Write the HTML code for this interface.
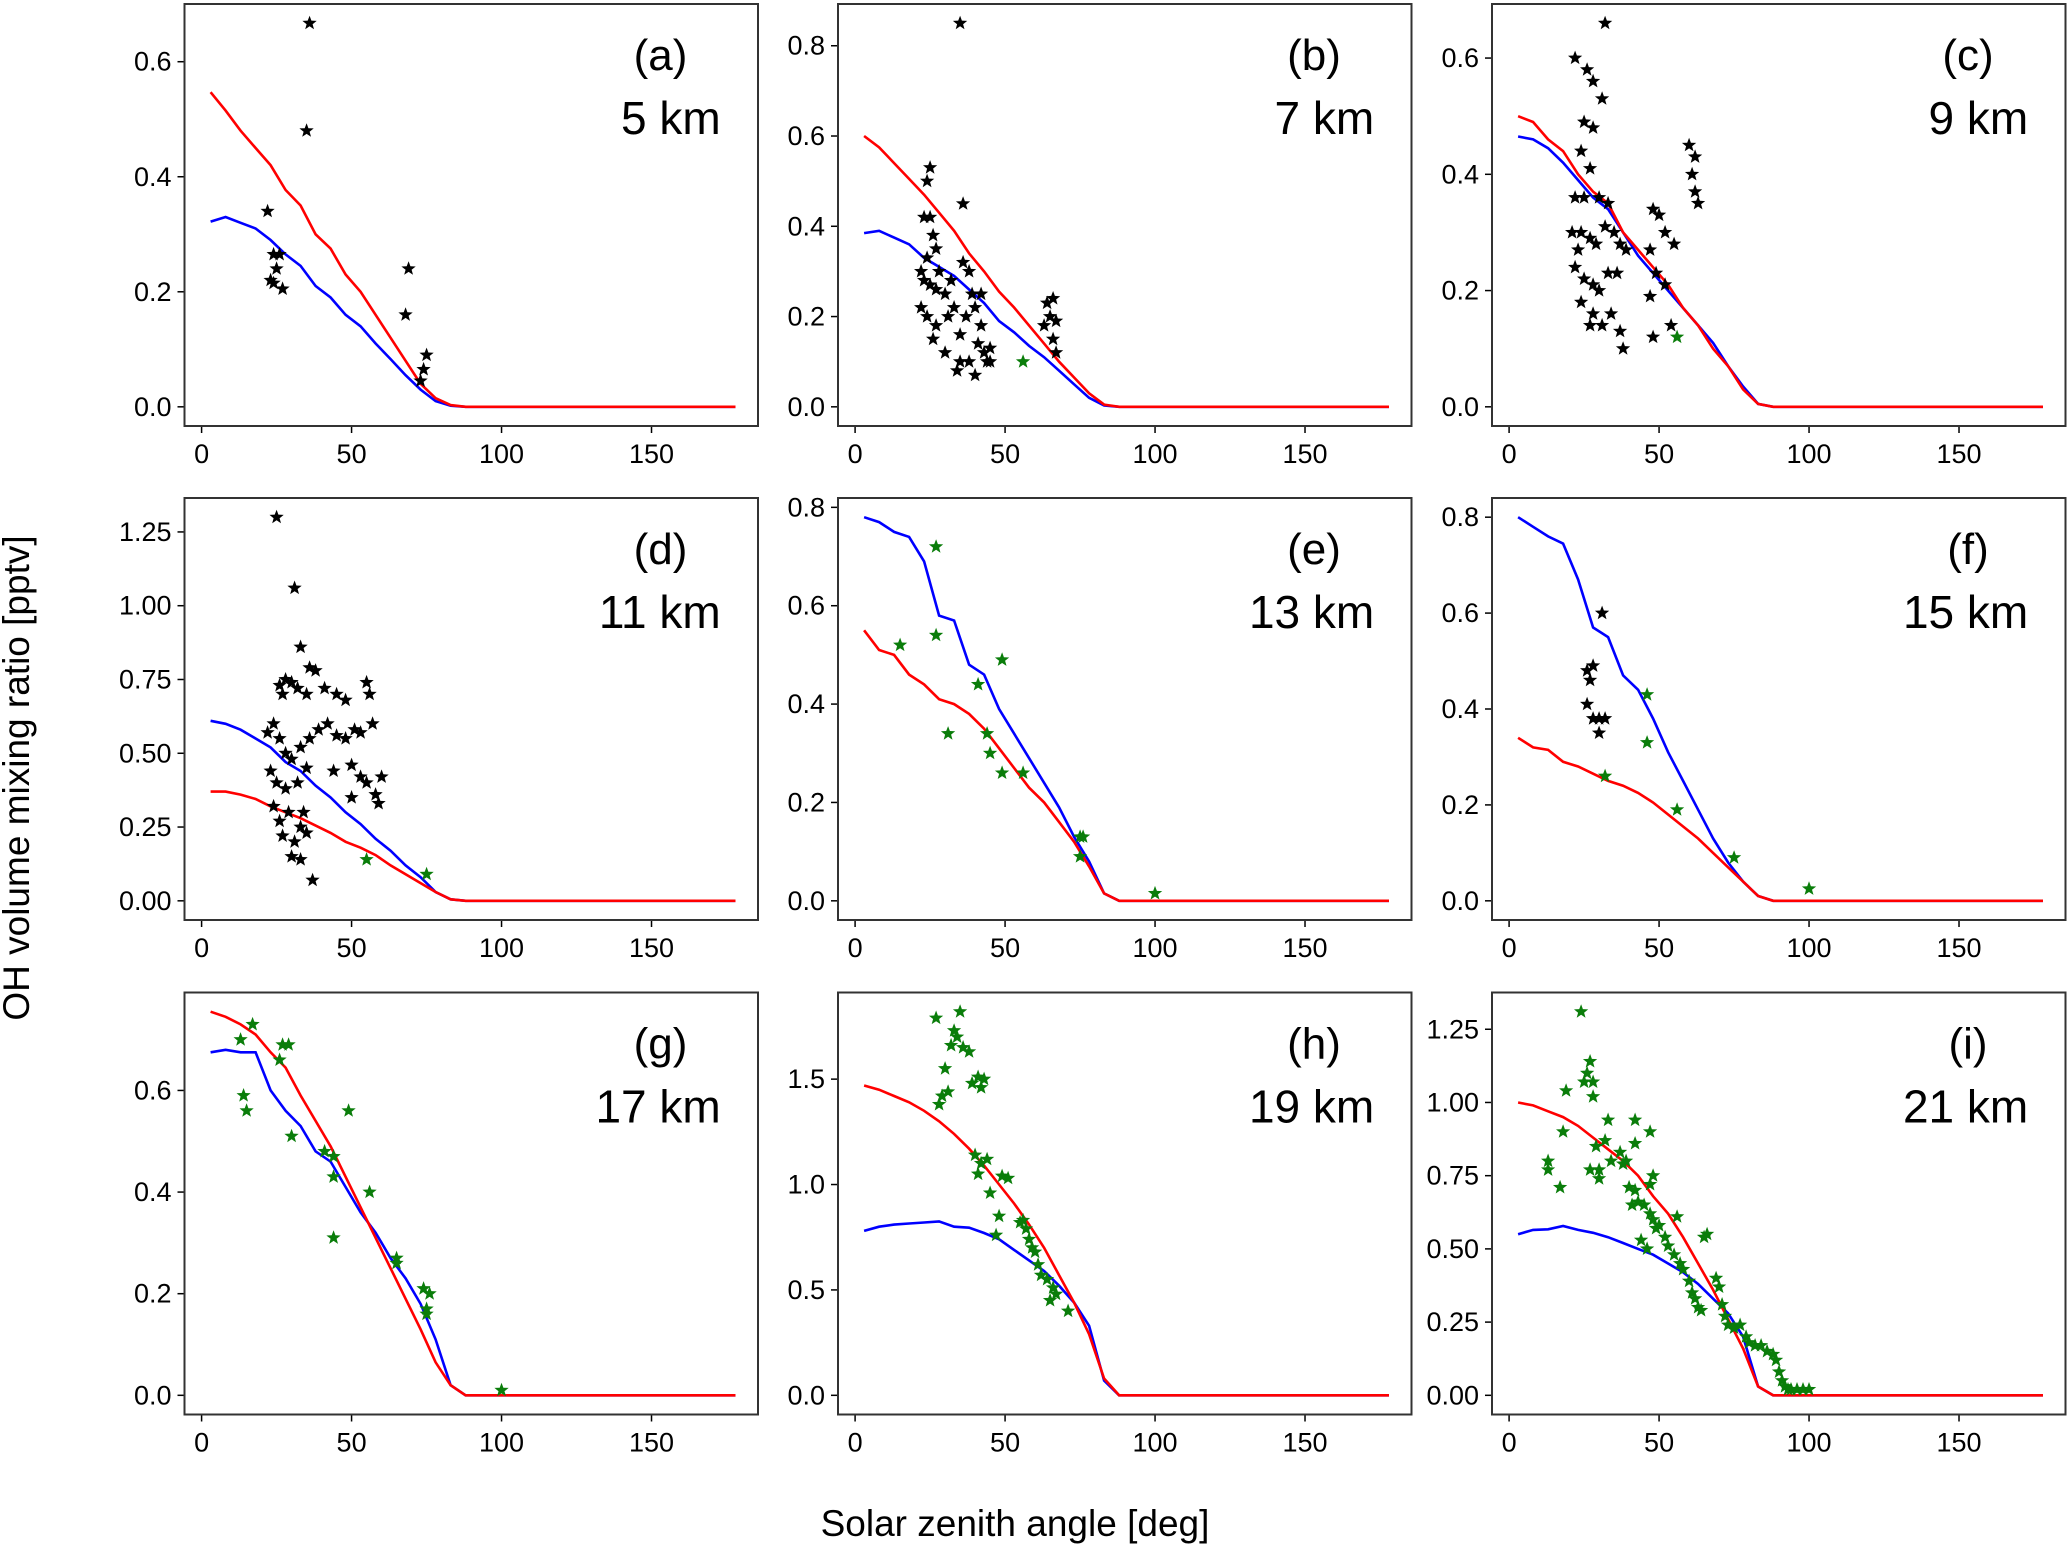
<!DOCTYPE html>
<html><head><meta charset="utf-8"><style>
html,body{margin:0;padding:0;background:#fff}
svg{display:block}
text{font-family:"Liberation Sans","DejaVu Sans",sans-serif;fill:#000}
</style></head><body>
<svg id="fig" width="2067" height="1546" viewBox="0 0 2067 1546" xmlns="http://www.w3.org/2000/svg">
<text transform="translate(29,778) rotate(-90)" text-anchor="middle" font-size="37">OH volume mixing ratio [pptv]</text>
<text x="1015" y="1536" text-anchor="middle" font-size="37">Solar zenith angle [deg]</text>
</svg>
<script>
const sza=[3,8,13,18,23,28,33,38,43,48,53,58,63,68,73,78,83,88,93,98,103,108,113,118,123,128,133,138,143,148,153,158,163,168,173,178];
const xTicks=[0,50,100,150];
const panelLetters=["(a)","(b)","(c)","(d)","(e)","(f)","(g)","(h)","(i)"];
const panelAlts=["5 km","7 km","9 km","11 km","13 km","15 km","17 km","19 km","21 km"];
const yTicksA=[0,0.2,0.4,0.6],yTicksB=[0,0.2,0.4,0.6,0.8],yTicksC=[0,0.2,0.4,0.6],yTicksD=[0,0.25,0.5,0.75,1,1.25],yTicksE=[0,0.2,0.4,0.6,0.8],yTicksF=[0,0.2,0.4,0.6,0.8],yTicksG=[0,0.2,0.4,0.6],yTicksH=[0,0.5,1,1.5],yTicksI=[0,0.25,0.5,0.75,1,1.25];
const Z=[0,0,0,0,0,0,0,0,0,0,0,0,0,0,0,0,0,0];
const redA=[0.547,0.515,0.48,0.45,0.42,0.377,0.35,0.30,0.275,0.23,0.20,0.16,0.12,0.08,0.04,0.015,0.003,0].concat(Z);
const blueA=[0.322,0.33,0.32,0.31,0.29,0.265,0.245,0.21,0.19,0.16,0.14,0.11,0.083,0.055,0.03,0.01,0.002,0].concat(Z);
const redB=[0.60,0.575,0.54,0.505,0.47,0.43,0.39,0.34,0.30,0.255,0.22,0.18,0.14,0.10,0.065,0.03,0.005,0].concat(Z);
const blueB=[0.385,0.39,0.375,0.36,0.33,0.31,0.29,0.26,0.23,0.19,0.165,0.135,0.11,0.08,0.05,0.02,0.003,0].concat(Z);
const redC=[0.50,0.49,0.46,0.44,0.40,0.37,0.35,0.30,0.27,0.24,0.21,0.17,0.14,0.10,0.07,0.03,0.005,0].concat(Z);
const blueC=[0.465,0.46,0.445,0.42,0.39,0.36,0.34,0.30,0.26,0.23,0.20,0.17,0.14,0.11,0.07,0.035,0.005,0].concat(Z);
const redD=[0.37,0.37,0.36,0.345,0.32,0.30,0.28,0.255,0.23,0.20,0.18,0.155,0.12,0.09,0.06,0.03,0.005,0].concat(Z);
const blueD=[0.61,0.60,0.58,0.55,0.52,0.47,0.44,0.39,0.35,0.30,0.26,0.21,0.17,0.12,0.08,0.03,0.005,0].concat(Z);
const redE=[0.55,0.51,0.50,0.46,0.44,0.41,0.40,0.38,0.35,0.31,0.27,0.23,0.20,0.16,0.12,0.07,0.015,0].concat(Z);
const blueE=[0.78,0.77,0.75,0.74,0.69,0.58,0.57,0.48,0.46,0.39,0.34,0.29,0.24,0.19,0.13,0.08,0.015,0].concat(Z);
const redF=[0.34,0.32,0.315,0.29,0.28,0.265,0.25,0.24,0.225,0.205,0.18,0.155,0.13,0.10,0.07,0.04,0.01,0].concat(Z);
const blueF=[0.80,0.78,0.76,0.745,0.67,0.57,0.55,0.47,0.44,0.38,0.31,0.25,0.19,0.13,0.08,0.04,0.01,0].concat(Z);
const redG=[0.755,0.745,0.73,0.71,0.675,0.645,0.59,0.54,0.49,0.43,0.37,0.31,0.25,0.19,0.13,0.065,0.02,0].concat(Z);
const blueG=[0.675,0.68,0.675,0.675,0.60,0.56,0.53,0.48,0.46,0.41,0.36,0.32,0.27,0.23,0.18,0.11,0.02,0].concat(Z);
const redH=[1.47,1.45,1.42,1.39,1.35,1.30,1.24,1.17,1.09,1.0,0.91,0.81,0.70,0.57,0.44,0.29,0.08,0].concat(Z);
const blueH=[0.78,0.80,0.81,0.815,0.82,0.825,0.80,0.795,0.77,0.74,0.69,0.64,0.59,0.52,0.44,0.33,0.07,0].concat(Z);
const redI=[1.0,0.99,0.97,0.95,0.92,0.88,0.84,0.80,0.75,0.68,0.62,0.54,0.45,0.36,0.26,0.16,0.03,0].concat(Z);
const blueI=[0.55,0.565,0.567,0.578,0.565,0.555,0.54,0.52,0.50,0.48,0.45,0.42,0.38,0.33,0.28,0.20,0.03,0].concat(Z);
const blackA=[[36,0.667],[35,0.48],[22,0.34],[24,0.265],[26,0.265],[25,0.24],[23,0.22],[24,0.215],[27,0.205],[69,0.24],[68,0.16],[75,0.09],[74,0.065],[73,0.045]];
const greenA=[];
const blackB=[[35,0.85],[25,0.53],[24,0.5],[36,0.45],[23,0.42],[25,0.42],[26,0.38],[27,0.35],[24,0.33],[28,0.3],[22,0.3],[23,0.28],[25,0.27],[27,0.26],[30,0.25],[32,0.28],[38,0.3],[36,0.32],[22,0.22],[24,0.2],[27,0.18],[31,0.2],[33,0.22],[35,0.16],[37,0.2],[40,0.22],[42,0.18],[41,0.14],[43,0.12],[44,0.1],[45,0.1],[38,0.1],[35,0.1],[34,0.08],[40,0.07],[30,0.12],[26,0.15],[39,0.25],[45,0.13],[42,0.25],[64,0.23],[66,0.24],[65,0.2],[63,0.18],[67,0.19],[66,0.15],[67,0.12]];
const greenB=[[56,0.1]];
const blackC=[[32,0.66],[22,0.6],[26,0.58],[28,0.56],[31,0.53],[25,0.49],[28,0.48],[24,0.44],[27,0.41],[22,0.36],[25,0.36],[30,0.36],[33,0.35],[21,0.3],[24,0.3],[27,0.29],[29,0.28],[32,0.31],[35,0.3],[37,0.28],[39,0.27],[23,0.27],[22,0.24],[25,0.22],[28,0.21],[30,0.2],[33,0.23],[36,0.23],[24,0.18],[28,0.16],[31,0.14],[34,0.16],[37,0.13],[38,0.1],[27,0.14],[48,0.34],[50,0.33],[52,0.3],[47,0.27],[55,0.28],[49,0.23],[52,0.21],[47,0.19],[54,0.14],[48,0.12],[60,0.45],[62,0.43],[61,0.4],[62,0.37],[63,0.35]];
const greenC=[[56,0.12]];
const blackD=[[25,1.3],[31,1.06],[33,0.86],[36,0.79],[38,0.78],[26,0.73],[28,0.75],[30,0.74],[27,0.7],[32,0.72],[35,0.7],[41,0.72],[45,0.7],[55,0.74],[56,0.7],[48,0.68],[22,0.57],[24,0.6],[26,0.55],[28,0.5],[30,0.48],[33,0.52],[36,0.55],[39,0.58],[42,0.6],[45,0.56],[48,0.55],[51,0.58],[53,0.57],[57,0.6],[23,0.44],[25,0.4],[28,0.38],[32,0.4],[35,0.45],[44,0.44],[50,0.46],[53,0.42],[55,0.4],[60,0.42],[58,0.36],[59,0.33],[50,0.35],[24,0.32],[26,0.27],[29,0.3],[33,0.25],[35,0.23],[31,0.2],[30,0.15],[33,0.14],[37,0.07],[27,0.22],[34,0.3]];
const greenD=[[55,0.14],[75,0.09]];
const blackE=[];
const greenE=[[27,0.72],[15,0.52],[27,0.54],[31,0.34],[41,0.44],[49,0.49],[44,0.34],[45,0.3],[49,0.26],[56,0.26],[75,0.13],[76,0.13],[75,0.09],[100,0.015]];
const blackF=[[31,0.6],[26,0.48],[28,0.49],[27,0.46],[26,0.41],[28,0.38],[30,0.38],[32,0.38],[30,0.35]];
const greenF=[[32,0.26],[46,0.43],[46,0.33],[56,0.19],[75,0.09],[100,0.025]];
const blackG=[];
const greenG=[[17,0.73],[13,0.70],[14,0.59],[15,0.56],[27,0.69],[29,0.69],[26,0.66],[30,0.51],[41,0.48],[44,0.47],[44,0.43],[44,0.31],[49,0.56],[56,0.40],[65,0.27],[65,0.26],[74,0.21],[76,0.2],[75,0.17],[75,0.16],[100,0.01]];
const blackH=[];
const greenH=[[27,1.79],[33,1.73],[35,1.82],[34,1.7],[36,1.65],[38,1.63],[32,1.66],[30,1.55],[29,1.42],[28,1.38],[31,1.44],[39,1.48],[41,1.51],[43,1.5],[42,1.46],[40,1.14],[42,1.1],[41,1.05],[44,1.12],[45,0.96],[49,1.04],[51,1.03],[48,0.85],[47,0.76],[56,0.83],[57,0.79],[58,0.74],[60,0.68],[61,0.62],[62,0.57],[64,0.55],[66,0.51],[67,0.48],[65,0.45],[71,0.4],[59,0.7],[55,0.82]];
const blackI=[];
const greenI=[[24,1.31],[27,1.14],[26,1.1],[28,1.07],[25,1.07],[28,1.02],[19,1.04],[18,0.9],[13,0.8],[13,0.77],[17,0.71],[29,0.85],[32,0.87],[33,0.94],[27,0.77],[30,0.74],[30,0.77],[34,0.8],[37,0.83],[38,0.79],[39,0.8],[42,0.94],[42,0.86],[47,0.9],[40,0.71],[42,0.7],[43,0.66],[41,0.65],[45,0.65],[47,0.62],[48,0.6],[47,0.72],[48,0.75],[49,0.57],[50,0.58],[52,0.54],[53,0.51],[44,0.53],[46,0.5],[56,0.61],[55,0.48],[57,0.45],[58,0.43],[60,0.39],[61,0.35],[62,0.33],[63,0.3],[64,0.29],[65,0.54],[66,0.55],[69,0.4],[70,0.37],[71,0.31],[72,0.27],[73,0.24],[75,0.23],[77,0.24],[79,0.2],[80,0.18],[82,0.17],[84,0.17],[86,0.15],[88,0.14],[89,0.12],[90,0.08],[91,0.05],[92,0.03],[93,0.02],[94,0.02],[96,0.02],[98,0.02],[100,0.02]];

const panels=[
 {red:redA,blue:blueA,black:blackA,green:greenA,ticks:yTicksA,dec:1},
 {red:redB,blue:blueB,black:blackB,green:greenB,ticks:yTicksB,dec:1},
 {red:redC,blue:blueC,black:blackC,green:greenC,ticks:yTicksC,dec:1},
 {red:redD,blue:blueD,black:blackD,green:greenD,ticks:yTicksD,dec:2},
 {red:redE,blue:blueE,black:blackE,green:greenE,ticks:yTicksE,dec:1},
 {red:redF,blue:blueF,black:blackF,green:greenF,ticks:yTicksF,dec:1},
 {red:redG,blue:blueG,black:blackG,green:greenG,ticks:yTicksG,dec:1},
 {red:redH,blue:blueH,black:blackH,green:greenH,ticks:yTicksH,dec:1},
 {red:redI,blue:blueI,black:blackI,green:greenI,ticks:yTicksI,dec:2}
];
const NS="http://www.w3.org/2000/svg";
const fig=document.getElementById('fig');
function mk(tag,parent){const e=document.createElementNS(NS,tag);parent.appendChild(e);return e;}
const colL=[184.5,838,1492],rowT=[4,498,992.5],PW=573.5,PH=422;
const XMIN=-5.7,XMAX=185.5;
function star(cx,cy,r){let p=[];for(let k=0;k<10;k++){const a=-Math.PI/2+k*Math.PI/5;const rr=k%2?r*0.42:r;p.push((cx+rr*Math.cos(a)).toFixed(1)+','+(cy+rr*Math.sin(a)).toFixed(1));}return p.join(' ');}
panels.forEach((P,i)=>{
  const L=colL[i%3],T=rowT[Math.floor(i/3)];
  let M=0;[P.red,P.blue].forEach(s=>s.forEach(v=>{if(v>M)M=v;}));[P.black,P.green].forEach(s=>s.forEach(d=>{if(d[1]>M)M=d[1];}));
  const yMin=-0.05*M,yMax=1.05*M;
  const sx=x=>L+(x-XMIN)/(XMAX-XMIN)*PW;
  const sy=y=>T+PH-(y-yMin)/(yMax-yMin)*PH;
  const g=mk('g',fig);
  
  
  const cp=mk('clipPath',g);cp.setAttribute('id','cp'+i);
  const cr=mk('rect',cp);cr.setAttribute('x',L);cr.setAttribute('y',T);cr.setAttribute('width',PW);cr.setAttribute('height',PH);
  xTicks.forEach(t=>{
    const ln=mk('line',g);ln.setAttribute('x1',sx(t));ln.setAttribute('x2',sx(t));ln.setAttribute('y1',T+PH);ln.setAttribute('y2',T+PH+7);ln.setAttribute('stroke','#000');ln.setAttribute('stroke-width','1.5');
    
    
    const tx=mk('text',g);tx.setAttribute('x',sx(t));tx.setAttribute('y',T+PH+37);tx.setAttribute('text-anchor','middle');tx.setAttribute('font-size','27');tx.textContent=t;
    
    
  });
  P.ticks.forEach(t=>{
    const ln=mk('line',g);ln.setAttribute('x1',L-7);ln.setAttribute('x2',L);ln.setAttribute('y1',sy(t));ln.setAttribute('y2',sy(t));ln.setAttribute('stroke','#000');ln.setAttribute('stroke-width','1.5');
    
    
    const tx=mk('text',g);tx.setAttribute('x',L-13);tx.setAttribute('y',sy(t)+9);tx.setAttribute('text-anchor','end');tx.setAttribute('font-size','27');tx.textContent=t.toFixed(P.dec);
    
    
  });
  const inner=mk('g',g);inner.setAttribute('clip-path','url(#cp'+i+')');
  [['blue','#0000ff',P.blue],['red','#ff0000',P.red]].forEach(([nm,c,s])=>{
    const pl=mk('polyline',inner);
    pl.setAttribute('points',s.map((v,k)=>sx(sza[k]).toFixed(1)+','+sy(v).toFixed(1)).join(' '));
    pl.setAttribute('fill','none');pl.setAttribute('stroke',c);pl.setAttribute('stroke-width','2.6');
    
    
  });
  [['black','#000000',P.black],['green','#0a7d0a',P.green]].forEach(([nm,c,s])=>{
    s.forEach(d=>{
      const st=mk('polygon',inner);st.setAttribute('points',star(sx(d[0]),sy(d[1]),7.5));st.setAttribute('fill',c);
      
      
    });
  });
  const fr=mk('rect',g);fr.setAttribute('x',L);fr.setAttribute('y',T);fr.setAttribute('width',PW);fr.setAttribute('height',PH);fr.setAttribute('fill','none');fr.setAttribute('stroke','#333');fr.setAttribute('stroke-width','2');
  
  
  const lb=mk('text',g);lb.setAttribute('x',L+PW*0.83);lb.setAttribute('y',T+66);lb.setAttribute('text-anchor','middle');lb.setAttribute('font-size','44');lb.textContent=panelLetters[i];
  
  
  const al=mk('text',g);al.setAttribute('x',L+PW*0.935);al.setAttribute('y',T+130);al.setAttribute('text-anchor','end');al.setAttribute('font-size','46');al.textContent=panelAlts[i];
  
  
});
</script>
</body></html>
